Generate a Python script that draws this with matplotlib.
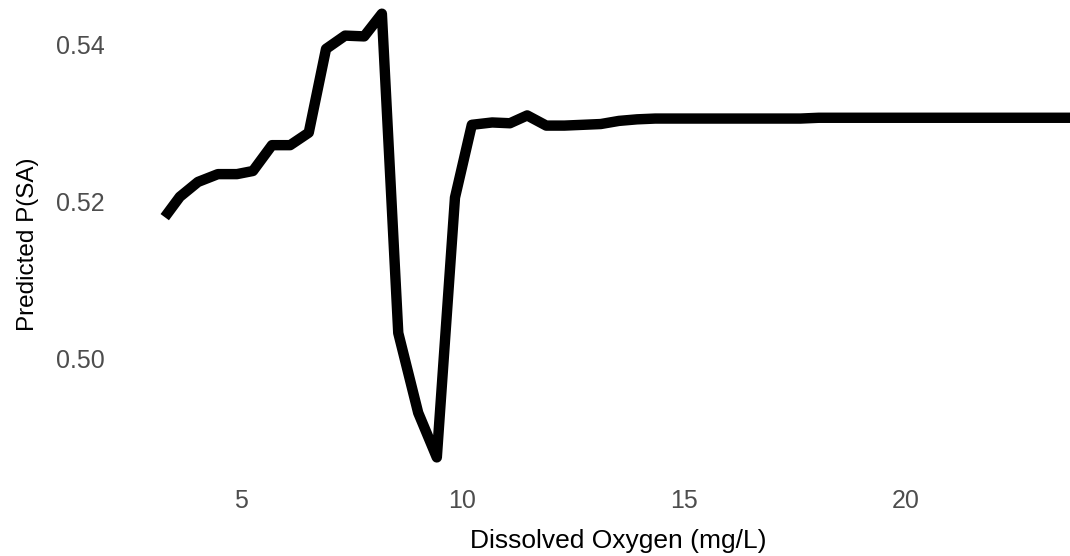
import matplotlib
matplotlib.use('Agg')
import matplotlib.pyplot as plt

# partial dependence of predicted P(SA) on dissolved oxygen
oxygen = [3.28, 3.62, 4.03, 4.48, 4.91, 5.27, 5.70, 6.11, 6.53, 6.92,
          7.35, 7.78, 8.18, 8.55, 9.00, 9.42, 9.83, 10.21, 10.67, 11.07,
          11.46, 11.89, 12.30, 12.71, 13.12, 13.53, 13.94, 14.35, 14.76, 15.17,
          15.58, 15.99, 16.40, 16.81, 17.22, 17.63, 18.04, 18.45, 18.86, 19.27,
          19.68, 20.09, 20.50, 20.91, 21.32, 21.73, 22.14, 22.55, 22.96, 23.37,
          23.78]
p_sa = [0.5180, 0.5206, 0.5225, 0.5235, 0.5235, 0.5239, 0.5272, 0.5272, 0.5288, 0.5395,
        0.5412, 0.5411, 0.5440, 0.5032, 0.4930, 0.4873, 0.5205, 0.5298, 0.5301, 0.5300,
        0.5310, 0.5297, 0.5297, 0.5298, 0.5299, 0.5303, 0.5305, 0.5306, 0.5306, 0.5306,
        0.5306, 0.5306, 0.5306, 0.5306, 0.5306, 0.5306, 0.5307, 0.5307, 0.5307, 0.5307,
        0.5307, 0.5307, 0.5307, 0.5307, 0.5307, 0.5307, 0.5307, 0.5307, 0.5307, 0.5307,
        0.5307]
x_ticks = [5, 10, 15, 20]
y_ticks = [0.50, 0.52, 0.54]

plt.rcParams['font.family'] = ['Liberation Sans', 'DejaVu Sans']

fig = plt.figure(figsize=(10.7, 5.56), dpi=100)
ax = fig.add_axes([120 / 1070, 81 / 556, 950 / 1070, 475 / 556])
ax.plot(oxygen, p_sa, color='black', linewidth=7.5,
        solid_joinstyle='round', solid_capstyle='butt')

ax.set_xlim(2.27, 23.71)
ax.set_ylim(0.48505, 0.54575)
ax.set_xticks(x_ticks)
ax.set_xticklabels([str(t) for t in x_ticks])
ax.set_yticks(y_ticks)
ax.set_yticklabels(['%.2f' % t for t in y_ticks])
ax.tick_params(length=0, labelsize=18, labelcolor='#4d4d4d')
ax.tick_params(axis='x', pad=10)
ax.tick_params(axis='y', pad=11)
for s in ax.spines.values():
    s.set_visible(False)

ax.set_xlabel('Dissolved Oxygen (mg/L)', fontsize=19)
ax.set_ylabel('Predicted P(SA)', fontsize=17.5)
ax.xaxis.set_label_coords(0.524, -0.113)
ax.yaxis.set_label_coords(-0.085, 0.486)

fig.savefig('out.png', dpi=100)
